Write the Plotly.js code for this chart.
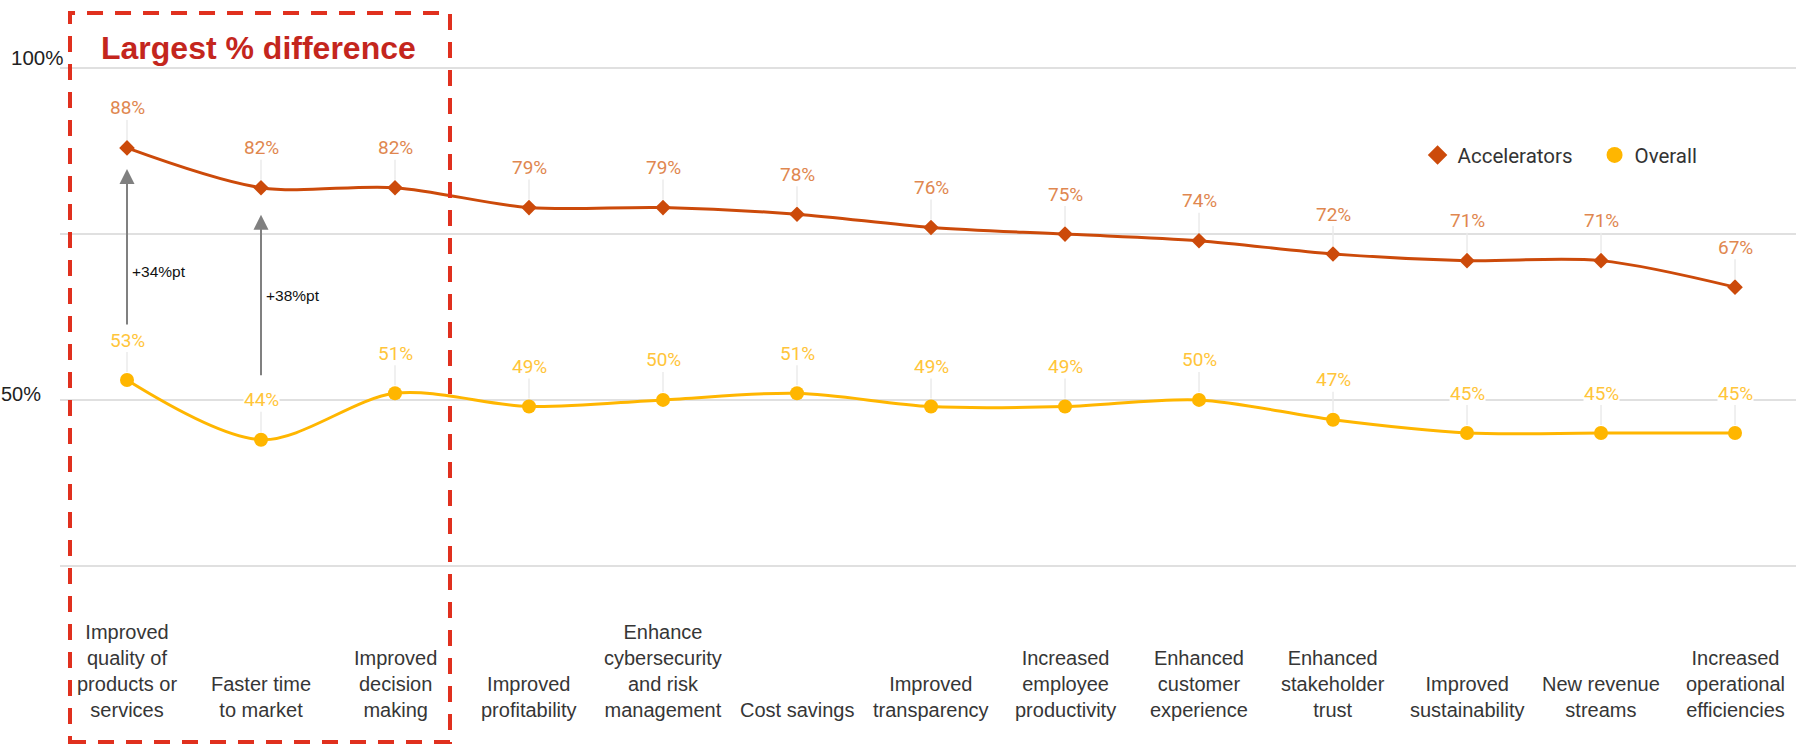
<!DOCTYPE html>
<html>
<head>
<meta charset="utf-8">
<script src="https://cdn.plot.ly/plotly-3.0.1.min.js"></script>
<style>html,body{margin:0;padding:0;background:#fff;}#chart{width:1796px;height:747px;}</style>
</head>
<body>
<div id="chart"></div>
<script>
// ---- data ----
const categories = [
  "Improved<br>quality of<br>products or<br>services",
  "Faster time<br>to market",
  "Improved<br>decision<br>making",
  "Improved<br>profitability",
  "Enhance<br>cybersecurity<br>and risk<br>management",
  "Cost savings",
  "Improved<br>transparency",
  "Increased<br>employee<br>productivity",
  "Enhanced<br>customer<br>experience",
  "Enhanced<br>stakeholder<br>trust",
  "Improved<br>sustainability",
  "New revenue<br>streams",
  "Increased<br>operational<br>efficiencies"
];
const accelerators = [88, 82, 82, 79, 79, 78, 76, 75, 74, 72, 71, 71, 67];
const overall      = [53, 44, 51, 49, 50, 51, 49, 49, 50, 47, 45, 45, 45];
const callouts = [
  {cat: 0, text: "+34%pt"},
  {cat: 1, text: "+38%pt"}
];
const yTicks = [25, 50, 75, 100];

// ---- styles ----
const ACC = "#CC4A0A", ACC_LBL = "#E0874F";
const OVR = "#FFB600", OVR_LBL = "#FFC53A";
const idx = categories.map((_, i) => i);

const traces = [
  {x: idx, y: accelerators, mode: "lines+markers", name: "Accelerators", showlegend: false,
   line: {color: ACC, width: 3, shape: "spline", smoothing: 0.9},
   marker: {symbol: "diamond", size: 12, color: ACC}, hoverinfo: "y"},
  {x: idx, y: overall, mode: "lines+markers", name: "Overall", showlegend: false,
   line: {color: OVR, width: 3, shape: "spline", smoothing: 0.9},
   marker: {symbol: "circle", size: 14, color: OVR}, hoverinfo: "y"},
  {x: [null], y: [null], mode: "markers", name: "Accelerators",
   marker: {symbol: "diamond", size: 15, color: ACC}},
  {x: [null], y: [null], mode: "markers", name: "Overall",
   marker: {symbol: "circle", size: 16, color: OVR}}
];

const annotations = [];
function valueLabels(vals, color) {
  vals.forEach((v, i) => {
    annotations.push({x: i, y: v, xref: "x", yref: "y", text: v + "%",
      showarrow: true, arrowhead: 0, arrowwidth: 1.5, arrowcolor: "#ebebeb",
      ax: 0, ay: -40, standoff: 8, bgcolor: "#ffffff", borderpad: 0,
      font: {family: "Roboto, sans-serif", size: 19, color: color}});
  });
}
valueLabels(accelerators, ACC_LBL);
valueLabels(overall, OVR_LBL);

// category labels (bottom-aligned)
categories.forEach((c, i) => {
  annotations.push({x: i, y: -0.306, xref: "x", yref: "paper", text: c,
    showarrow: false, xanchor: "center", yanchor: "bottom", align: "center",
    font: {family: "Liberation Sans, Arial, sans-serif", size: 20, color: "#363636"}});
});

// difference arrows
const calloutY = [69.4, 65.8];
callouts.forEach((c, k) => {
  annotations.push({x: c.cat, y: accelerators[c.cat], xref: "x", yref: "y",
    ax: c.cat, ay: overall[c.cat], axref: "x", ayref: "y",
    showarrow: true, arrowhead: 2, arrowsize: 1.5, arrowwidth: 2, arrowcolor: "#808080",
    standoff: k === 0 ? 21 : 27, startstandoff: k === 0 ? 54 : 63, text: ""});
  annotations.push({x: c.cat, y: calloutY[k], xref: "x", yref: "y", text: c.text,
    showarrow: false, xanchor: "left", yanchor: "middle", xshift: 3,
    font: {family: "Liberation Sans, Arial, sans-serif", size: 15.5, color: "#111"}});
});

// y labels
annotations.push({x: 0.0029, y: 100, xref: "paper", yref: "y", text: "100%", showarrow: false,
  xanchor: "right", yanchor: "middle", yshift: 11,
  font: {family: "Liberation Sans, Arial, sans-serif", size: 20.5, color: "#222"}});
annotations.push({x: -0.0098, y: 50, xref: "paper", yref: "y", text: "50%", showarrow: false,
  xanchor: "right", yanchor: "middle", yshift: 6,
  font: {family: "Liberation Sans, Arial, sans-serif", size: 20, color: "#222"}});

// title
annotations.push({x: 0.1146, y: 1.0337, xref: "paper", yref: "paper", text: "<b>Largest % difference</b>",
  showarrow: false, xanchor: "center", yanchor: "middle",
  font: {family: "Liberation Sans, Arial, sans-serif", size: 32, color: "#C4261D"}});

const layout = {
  width: 1796, height: 747,
  margin: {l: 60, r: 0, t: 65, b: 178, pad: 0},
  paper_bgcolor: "#fff", plot_bgcolor: "#fff",
  xaxis: {range: [-0.5, 12.455], showticklabels: false, showgrid: false, zeroline: false,
          showline: false, ticks: "", fixedrange: true},
  yaxis: {range: [24.5, 100.5], tickvals: yTicks, showticklabels: false, showgrid: true,
          gridcolor: "#e0e0e0", gridwidth: 2, zeroline: false, showline: false, ticks: "", fixedrange: true},
  showlegend: true,
  legend: {orientation: "h", x: 0.782, y: 0.861, xanchor: "left", yanchor: "top",
           entrywidth: 132, entrywidthmode: "pixels",
           font: {family: "Roboto, sans-serif", size: 20.5, color: "#333"}, bgcolor: "rgba(0,0,0,0)"},
  annotations: annotations,
  shapes: [{type: "rect", xref: "paper", yref: "paper", x0: 0.00576, x1: 0.22465, y0: -0.3433, y1: 1.1032,
            line: {color: "#E0301E", width: 4, dash: "16px,12px"}, fillcolor: "rgba(0,0,0,0)"}]
};

Plotly.newPlot("chart", traces, layout, {displayModeBar: false, staticPlot: true});
</script>
</body>
</html>
